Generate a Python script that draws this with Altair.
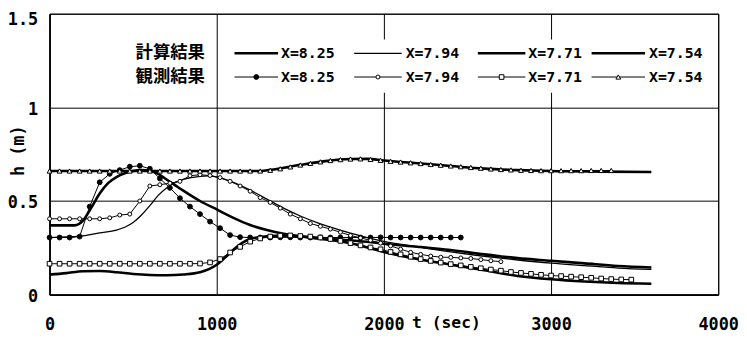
import altair as alt
import pandas as pd

# ---------------- data ----------------
# computed results (t [sec], h [m])
COMP_825_T = [0, 150, 200, 250, 300, 350, 400, 450, 500, 550, 600, 650, 700, 750, 800, 900, 1000, 1100, 1200,
              1300, 1400, 1500, 1700, 1900, 2000, 2200, 2400, 2600, 2800, 3000, 3200, 3400, 3600]
COMP_825_H = [0.37, 0.37, 0.395, 0.465, 0.54, 0.595, 0.628, 0.648, 0.66, 0.665, 0.662, 0.645, 0.615, 0.585, 0.555,
              0.5, 0.455, 0.41, 0.372, 0.345, 0.325, 0.312, 0.297, 0.282, 0.272, 0.256, 0.238, 0.215, 0.195, 0.181,
              0.167, 0.153, 0.145]

COMP_794_T = [0, 180, 300, 400, 450, 500, 550, 600, 650, 700, 750, 800, 900, 950, 1000, 1100, 1200, 1300, 1400,
              1500, 1600, 1700, 1800, 1900, 2000, 2200, 2400, 2600, 2800, 3000, 3200, 3400, 3600]
COMP_794_H = [0.305, 0.312, 0.33, 0.345, 0.36, 0.385, 0.425, 0.475, 0.53, 0.57, 0.598, 0.615, 0.632, 0.634, 0.628,
              0.6, 0.558, 0.51, 0.462, 0.42, 0.385, 0.355, 0.328, 0.305, 0.285, 0.255, 0.228, 0.205, 0.185, 0.168,
              0.155, 0.142, 0.135]

COMP_771_T = [0, 100, 200, 300, 400, 500, 600, 700, 800, 900, 950, 1000, 1050, 1100, 1150, 1200, 1300, 1400, 1500,
              1600, 1800, 2000, 2100, 2200, 2400, 2600, 2800, 3000, 3200, 3400, 3600]
COMP_771_H = [0.107, 0.115, 0.125, 0.126, 0.12, 0.11, 0.105, 0.104, 0.108, 0.12, 0.135, 0.16, 0.198, 0.24, 0.275,
              0.297, 0.312, 0.315, 0.31, 0.3, 0.275, 0.228, 0.208, 0.19, 0.16, 0.13, 0.1, 0.082, 0.07, 0.062, 0.058]

COMP_754_T = [0, 1250, 1350, 1500, 1650, 1800, 1900, 2000, 2200, 2400, 2600, 2800, 3000, 3300, 3600]
COMP_754_H = [0.66, 0.66, 0.67, 0.693, 0.713, 0.724, 0.725, 0.716, 0.702, 0.687, 0.673, 0.665, 0.66, 0.657, 0.655]

# observed results, sampled every 60 s
OBS_T = [0, 60, 120, 180, 240, 300, 360, 420, 480, 540, 600, 660, 720, 780, 840, 900, 960, 1020, 1080, 1140,
         1200, 1260, 1320, 1380, 1440, 1500, 1560, 1620, 1680, 1740, 1800, 1860, 1920, 1980, 2040, 2100, 2160,
         2220, 2280, 2340, 2400, 2460, 2520, 2580, 2640, 2700, 2760, 2820, 2880, 2940, 3000, 3060, 3120, 3180,
         3240, 3300, 3360, 3420, 3480]

OBS_825_H = [0.305, 0.305, 0.305, 0.31, 0.47, 0.60, 0.645, 0.665, 0.683, 0.688, 0.672, 0.62, 0.57, 0.515, 0.47,
             0.43, 0.39, 0.355, 0.318, 0.307, 0.305,
             0.305, 0.305, 0.306, 0.306, 0.305, 0.305, 0.306, 0.305, 0.305, 0.305, 0.305, 0.305, 0.306, 0.305,
             0.305, 0.305, 0.305, 0.305, 0.305, 0.305, 0.305]

OBS_794_H = [0.405, 0.405, 0.405, 0.405, 0.405, 0.405, 0.41, 0.425, 0.43, 0.50, 0.58, 0.587, 0.595, 0.605, 0.635,
             0.64, 0.636, 0.625, 0.605, 0.58, 0.552, 0.518, 0.492, 0.462, 0.43, 0.405, 0.38, 0.365, 0.35, 0.333,
             0.316, 0.303, 0.29, 0.275, 0.26, 0.243, 0.226, 0.215, 0.206, 0.2, 0.199, 0.196, 0.193, 0.187, 0.181,
             0.176]

OBS_771_H = [0.165, 0.165, 0.165, 0.165, 0.165, 0.165, 0.165, 0.165, 0.165, 0.165, 0.165, 0.165, 0.165, 0.165,
             0.165, 0.166, 0.172,
             0.19, 0.225, 0.255, 0.283, 0.30, 0.31, 0.315, 0.316, 0.313, 0.31, 0.305, 0.297, 0.287, 0.275, 0.263,
             0.252, 0.242, 0.228, 0.215, 0.202, 0.19, 0.18, 0.171, 0.163, 0.156, 0.148, 0.141, 0.134, 0.128, 0.121,
             0.116, 0.111, 0.106, 0.102, 0.099, 0.096, 0.093, 0.09, 0.086, 0.083, 0.081, 0.08]

OBS_754_H = [0.66, 0.66, 0.66, 0.66, 0.66, 0.66, 0.66, 0.66, 0.66, 0.66, 0.66, 0.66, 0.66, 0.66, 0.66, 0.66,
             0.66, 0.66, 0.66, 0.66, 0.66, 0.66,
             0.664, 0.672, 0.682, 0.692, 0.701, 0.709, 0.716, 0.721, 0.724, 0.725, 0.722, 0.717, 0.712, 0.708,
             0.704, 0.70, 0.695, 0.691, 0.687, 0.683, 0.679, 0.675, 0.671, 0.668, 0.666, 0.664, 0.663, 0.662,
             0.662, 0.662, 0.662, 0.662, 0.663, 0.663, 0.663]

SERIES = ["X=8.25", "X=7.94", "X=7.71", "X=7.54"]
ROW_TITLES = ["計算結果", "観測結果"]
X_TICKS = [0, 1000, 2000, 3000, 4000]
Y_TICKS = [0, 0.5, 1, 1.5]

# ---------------- styling / layout ----------------
W, H = 676, 284
PAD = {"left": 42, "top": 4, "right": 21, "bottom": 37}
MONO = "DejaVu Sans Mono"
CJK = "Noto Sans CJK JP"
THICK, THIN = 2.6, 1.3
comp_widths = [THICK, THIN, THICK, THICK]
obs_shapes = ["circle", "circle", "square", "triangle-up"]
obs_fills = ["black", "white", "white", "white"]
obs_sizes = [24, 16, 22, 24]

xaxis = alt.Axis(values=X_TICKS, grid=True, gridColor="black", gridWidth=1, gridOpacity=1,
                 domainColor="black", domainWidth=1.6, ticks=False, labelExpr="'' + datum.value",
                 labelFont=MONO, labelFontWeight="bold", labelFontSize=17, labelColor="black",
                 labelPadding=22, labelFlush=False, labelOverlap=False,
                 title="t (sec)", titleFont=MONO, titleFontWeight="bold", titleFontSize=16.5,
                 titleColor="black", titleX=366, titleY=28, titleAlign="left", titleBaseline="middle",
                 titleAnchor="start")
yaxis = alt.Axis(values=Y_TICKS, grid=True, gridColor="black", gridWidth=1, gridOpacity=1,
                 domainColor="black", domainWidth=1.6, ticks=False, labelExpr="'' + datum.value",
                 labelFont=MONO, labelFontWeight="bold", labelFontSize=17, labelColor="black",
                 labelPadding=12,
                 labelOffset={"condition": {"test": "datum.value == 1.5", "value": 6}, "value": 2},
                 labelFlush=False, labelOverlap=False,
                 title="h (m)", titleFont=MONO, titleFontWeight="bold", titleFontSize=17,
                 titleColor="black", titleX=-31, titleY=138, titleAngle=-90, titleAlign="center",
                 titleBaseline="middle")

X = alt.X("t:Q", scale=alt.Scale(domain=[0, 4000], nice=False, zero=False), axis=xaxis)
Y = alt.Y("h:Q", scale=alt.Scale(domain=[0, 1.5], nice=False, zero=False), axis=yaxis)

layers = []
comp = [(COMP_825_T, COMP_825_H), (COMP_794_T, COMP_794_H), (COMP_771_T, COMP_771_H), (COMP_754_T, COMP_754_H)]
for (tt, hh), w in zip(comp, comp_widths):
    df = pd.DataFrame({"t": tt, "h": hh})
    layers.append(alt.Chart(df).mark_line(color="black", strokeWidth=w, interpolate="monotone").encode(x=X, y=Y))

obs = [OBS_825_H, OBS_794_H, OBS_771_H, OBS_754_H]
for hh, shp, fil, sz in zip(obs, obs_shapes, obs_fills, obs_sizes):
    df = pd.DataFrame({"t": OBS_T[:len(hh)], "h": hh})
    base = alt.Chart(df)
    layers.append(base.mark_line(color="black", strokeWidth=1).encode(x=X, y=Y))
    layers.append(base.mark_point(shape=shp, size=sz, fill=fil, stroke="black", strokeWidth=1,
                                  opacity=1, fillOpacity=1).encode(x=X, y=Y))

# ---------------- legend (pixel layout inside the plot area) ----------------
OX, OY = 50, 12                      # page position of the plot origin
ROW_Y = [52, 76]                     # page y of the two legend rows
LINE_X0 = [237, 358, 483, 598]
LINE_X1 = [281, 406, 531, 652]
LABEL_X = [284, 410, 534, 656]

bg = pd.DataFrame({"x": [226 - OX], "x2": [722 - OX], "y": [38 - OY], "y2": [92 - OY]})
layers.append(alt.Chart(bg).mark_rect(fill="white", stroke=None).encode(
    x=alt.X("x:Q", scale=None, axis=None), x2="x2:Q",
    y=alt.Y("y:Q", scale=None, axis=None), y2="y2:Q"))

rows = []
for r in range(2):
    for i, name in enumerate(SERIES):
        rows.append({"x0": LINE_X0[i] - OX, "x1": LINE_X1[i] - OX, "xm": (LINE_X0[i] + LINE_X1[i]) / 2 - OX,
                     "lx": LABEL_X[i] - OX, "y": ROW_Y[r] - OY, "label": name, "row": r,
                     "w": comp_widths[i] if r == 0 else 1, "shape": obs_shapes[i], "fill": obs_fills[i],
                     "size": obs_sizes[i]})
leg = pd.DataFrame(rows)
legc = alt.Chart(leg)
layers.append(legc.mark_rule(color="black").encode(
    x=alt.X("x0:Q", scale=None, axis=None), x2="x1:Q",
    y=alt.Y("y:Q", scale=None, axis=None),
    strokeWidth=alt.StrokeWidth("w:Q", scale=None, legend=None)))
layers.append(legc.transform_filter("datum.row == 1").mark_point(stroke="black", strokeWidth=1, opacity=1,
                                                                  fillOpacity=1).encode(
    x=alt.X("xm:Q", scale=None, axis=None),
    y=alt.Y("y:Q", scale=None, axis=None),
    shape=alt.Shape("shape:N", scale=None, legend=None),
    fill=alt.Fill("fill:N", scale=None, legend=None),
    size=alt.Size("size:Q", scale=None, legend=None)))
layers.append(legc.mark_text(align="left", baseline="middle", font=MONO, fontWeight="bold", fontSize=15,
                             color="black").encode(
    x=alt.X("lx:Q", scale=None, axis=None),
    y=alt.Y("y:Q", scale=None, axis=None),
    text="label:N"))

titles = pd.DataFrame({"x": [137 - OX] * 2, "y": [v - OY for v in ROW_Y], "text": ROW_TITLES})
layers.append(alt.Chart(titles).mark_text(align="left", baseline="middle", font=CJK, fontWeight="bold",
                                          fontSize=17.5, color="black").encode(
    x=alt.X("x:Q", scale=None, axis=None),
    y=alt.Y("y:Q", scale=None, axis=None),
    text="text:N"))

chart = alt.layer(*layers).properties(
    width=W, height=H, autosize=alt.AutoSizeParams(type="none"), padding=PAD, background="white"
).configure_view(stroke="black", strokeWidth=1)

chart.save("out.html", embed_options={"renderer": "svg", "actions": False})
